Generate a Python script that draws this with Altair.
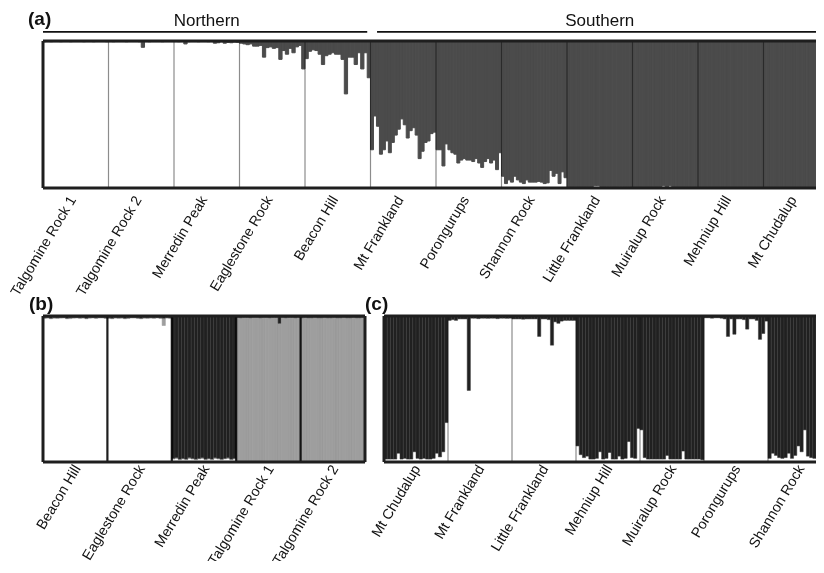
import altair as alt
import pandas as pd

FONT = "Liberation Sans"

# ---------------- panel (a): two clusters, value = share of the dark (Southern) cluster
A_POPS = ["Talgomine Rock 1", "Talgomine Rock 2", "Merredin Peak", "Eaglestone Rock",
          "Beacon Hill", "Mt Frankland", "Porongurups", "Shannon Rock",
          "Little Frankland", "Muiralup Rock", "Mehniup Hill", "Mt Chudalup"]
a_talg1 = [0.006, 0.005, 0.006, 0.005, 0.005, 0.006, 0.005, 0.005, 0.006, 0.005,
           0.005, 0.005, 0.006, 0.005, 0.005, 0.006, 0.005, 0.005, 0.005, 0.006]
a_talg2 = [0.005, 0.006, 0.005, 0.005, 0.005, 0.006, 0.005, 0.005, 0.005, 0.006,
           0.043, 0.005, 0.006, 0.005, 0.005, 0.005, 0.006, 0.005, 0.005, 0.005]
a_merredin = [0.005, 0.006, 0.005, 0.02, 0.006, 0.005, 0.005, 0.006, 0.005, 0.005,
              0.006, 0.005, 0.015, 0.012, 0.006, 0.015, 0.01, 0.012, 0.008, 0.01]
a_eagle = [0.015, 0.02, 0.025, 0.02, 0.035, 0.035, 0.03, 0.11, 0.045, 0.04,
           0.05, 0.045, 0.125, 0.065, 0.09, 0.05, 0.08, 0.04, 0.03, 0.19]
a_beacon = [0.12, 0.07, 0.06, 0.065, 0.09, 0.16, 0.10, 0.09, 0.08, 0.09,
            0.09, 0.125, 0.36, 0.11, 0.11, 0.16, 0.08, 0.19, 0.08, 0.25]
a_mtfrank = [0.74, 0.51, 0.58, 0.77, 0.74, 0.68, 0.76, 0.69, 0.64, 0.60, 0.53,
             0.57, 0.66, 0.61, 0.59, 0.64, 0.80, 0.75, 0.69, 0.68, 0.63, 0.62]
a_poron = [0.74, 0.74, 0.85, 0.70, 0.74, 0.76, 0.77, 0.83, 0.81, 0.80, 0.81,
           0.81, 0.82, 0.80, 0.83, 0.86, 0.82, 0.80, 0.83, 0.81, 0.875, 0.76]
a_shannon = [0.92, 0.97, 0.945, 0.96, 0.92, 0.945, 0.96, 0.97, 0.945, 0.96, 0.96,
             0.96, 0.955, 0.96, 0.97, 0.965, 0.88, 0.92, 0.90, 0.97, 0.89, 0.93]
a_littlefr = [0.995, 0.995, 0.99, 0.995, 0.995, 0.995, 0.99, 0.995, 0.985, 0.985,
              0.99, 0.99, 0.99, 0.99, 0.995, 0.99, 0.99, 0.99, 0.99, 0.995]
a_muiralup = [0.995, 0.995, 0.995, 0.99, 0.995, 0.995, 0.99, 0.995, 0.99, 0.985,
              0.995, 0.985, 0.995, 0.995, 0.995, 0.995, 0.995, 0.995, 0.995, 0.995]
a_mehniup = [0.998, 0.998, 0.998, 0.998, 0.998, 0.998, 0.998, 0.995, 0.998, 0.998,
             0.998, 0.998, 0.995, 0.998, 0.995, 0.998, 0.995, 0.998, 0.998, 0.998]
a_chudalup = [0.998, 0.998, 0.998, 0.998, 0.998, 0.998, 0.998, 0.998, 0.998, 0.998,
              0.998, 0.995, 0.995, 0.998, 0.995, 0.99, 0.995, 0.995, 0.998, 0.998]
A_VALUES = [a_talg1, a_talg2, a_merredin, a_eagle, a_beacon, a_mtfrank, a_poron,
            a_shannon, a_littlefr, a_muiralup, a_mehniup, a_chudalup]
A_GROUPS = ["Northern", "Southern"]
A_GROUP_SPAN = [(0.0, 4.95), (5.1, 12.0)]

# ---------------- panel (b): three clusters (white / grey / black)
B_POPS = ["Beacon Hill", "Eaglestone Rock", "Merredin Peak",
          "Talgomine Rock 1", "Talgomine Rock 2"]
b_beacon_dark = [0.012, 0.01, 0.015, 0.01, 0.012, 0.01, 0.01, 0.015, 0.012, 0.01,
                 0.01, 0.012, 0.01, 0.015, 0.01, 0.01, 0.012, 0.01, 0.01, 0.012]
b_beacon_grey = [0.004, 0.005, 0.004, 0.006, 0.004, 0.005, 0.004, 0.004, 0.006, 0.005,
                 0.004, 0.004, 0.005, 0.004, 0.006, 0.004, 0.005, 0.004, 0.004, 0.005]
b_eagle_dark = [0.012, 0.015, 0.01, 0.012, 0.01, 0.015, 0.012, 0.01, 0.01, 0.012,
                0.015, 0.01, 0.012, 0.01, 0.012, 0.01, 0.012, 0.015, 0.01, 0.012]
b_eagle_grey = [0.005, 0.004, 0.005, 0.004, 0.006, 0.004, 0.005, 0.004, 0.004, 0.005,
                0.004, 0.006, 0.004, 0.005, 0.004, 0.004, 0.005, 0.05, 0.005, 0.004]
b_merredin_dark = [0.975, 0.97, 0.98, 0.975, 0.98, 0.97, 0.975, 0.98, 0.975, 0.97,
                   0.98, 0.975, 0.98, 0.97, 0.975, 0.98, 0.975, 0.97, 0.98, 0.975]
b_merredin_grey = [0.005, 0.006, 0.005, 0.005, 0.004, 0.006, 0.005, 0.005, 0.004, 0.006,
                   0.005, 0.005, 0.004, 0.006, 0.005, 0.005, 0.004, 0.006, 0.005, 0.005]
b_talg1_dark = [0.01, 0.012, 0.01, 0.01, 0.012, 0.01, 0.01, 0.012, 0.01, 0.01,
                0.012, 0.01, 0.01, 0.05, 0.01, 0.012, 0.01, 0.01, 0.012, 0.01]
b_talg1_grey = [0.985, 0.983, 0.985, 0.985, 0.983, 0.985, 0.985, 0.983, 0.985, 0.985,
                0.983, 0.985, 0.985, 0.945, 0.985, 0.983, 0.985, 0.985, 0.983, 0.985]
b_talg2_dark = [0.012, 0.01, 0.012, 0.012, 0.01, 0.012, 0.012, 0.01, 0.012, 0.012,
                0.01, 0.012, 0.012, 0.01, 0.012, 0.012, 0.01, 0.012, 0.012, 0.01]
b_talg2_grey = [0.983, 0.985, 0.983, 0.983, 0.985, 0.983, 0.983, 0.985, 0.983, 0.983,
                0.985, 0.983, 0.983, 0.985, 0.983, 0.983, 0.985, 0.983, 0.983, 0.985]
B_DARK = [b_beacon_dark, b_eagle_dark, b_merredin_dark, b_talg1_dark, b_talg2_dark]
B_GREY = [b_beacon_grey, b_eagle_grey, b_merredin_grey, b_talg1_grey, b_talg2_grey]

# ---------------- panel (c): two clusters, value = share of the black cluster
C_POPS = ["Mt Chudalup", "Mt Frankland", "Little Frankland", "Mehniup Hill",
          "Muiralup Rock", "Porongurups", "Shannon Rock"]
c_chudalup = [0.98, 0.98, 0.98, 0.98, 0.94, 0.98, 0.975, 0.98, 0.98, 0.93,
              0.975, 0.98, 0.975, 0.98, 0.98, 0.975, 0.94, 0.965, 0.93, 0.73]
c_mtfrank = [0.03, 0.025, 0.03, 0.02, 0.02, 0.02, 0.51, 0.015, 0.015, 0.018,
             0.015, 0.015, 0.016, 0.015, 0.015, 0.018, 0.015, 0.015, 0.016, 0.015]
c_littlefr = [0.02, 0.02, 0.02, 0.022, 0.02, 0.02, 0.02, 0.02, 0.14, 0.02,
              0.02, 0.025, 0.20, 0.04, 0.05, 0.035, 0.03, 0.03, 0.03, 0.03]
c_mehniup = [0.89, 0.95, 0.97, 0.96, 0.98, 0.98, 0.975, 0.93, 0.98, 0.975,
             0.935, 0.98, 0.98, 0.96, 0.98, 0.975, 0.86, 0.97, 0.975, 0.77]
c_muiralup = [0.78, 0.97, 0.98, 0.98, 0.98, 0.98, 0.98, 0.98, 0.955, 0.98,
              0.98, 0.98, 0.98, 0.925, 0.98, 0.98, 0.98, 0.98, 0.98, 0.985]
c_poron = [0.012, 0.012, 0.015, 0.012, 0.012, 0.015, 0.02, 0.14, 0.02, 0.125,
           0.02, 0.02, 0.025, 0.09, 0.02, 0.02, 0.03, 0.16, 0.12, 0.035]
c_shannon = [0.975, 0.94, 0.955, 0.97, 0.975, 0.97, 0.94, 0.975, 0.955, 0.89,
             0.93, 0.78, 0.96, 0.97, 0.975, 0.955, 0.94, 0.975, 0.97, 0.97]
C_VALUES = [c_chudalup, c_mtfrank, c_littlefr, c_mehniup, c_muiralup, c_poron, c_shannon]

CLUSTERS = ["dark", "grey", "black"]
FILLS = ["#4b4b4b", "#9e9e9e", "#202020"]
STROKES = ["#4b4b4b", "#949494", "#383838"]

# ---------------- layout (pixel sizes of the plot areas); the figure is cropped
# on the right by the fixed-size canvas, as in the original
A_POPW, B_POPW, C_POPW = 65.5, 64.4, 64.0
A_W, A_H = round(A_POPW * len(A_POPS)), 147
B_W, B_H = round(B_POPW * len(B_POPS)), 146
C_W, C_H = round(C_POPW * len(C_POPS)), 146
A_MAX, B_MAX, C_MAX = float(len(A_POPS)), float(len(B_POPS)), float(len(C_POPS))


def two_cluster_df(values, dark_name):
    rows = []
    for p, vals in enumerate(values):
        n = len(vals)
        for i, q in enumerate(vals):
            rows.append({"x": p + i / n, "x2": p + (i + 1) / n,
                         "y": 1 - q, "y2": 1.0, "cluster": dark_name})
    return pd.DataFrame(rows)


def three_cluster_df(dark, grey):
    rows = []
    for p, (dv, gv) in enumerate(zip(dark, grey)):
        n = len(dv)
        for i, (d, g) in enumerate(zip(dv, gv)):
            w = max(0.0, 1 - d - g)
            rows.append({"x": p + i / n, "x2": p + (i + 1) / n, "y": w, "y2": w + g, "cluster": "grey"})
            rows.append({"x": p + i / n, "x2": p + (i + 1) / n, "y": w + g, "y2": 1.0, "cluster": "black"})
    return pd.DataFrame(rows)


def xenc(dmax, names, offset, padding):
    label_list = "[" + ",".join("'" + n + "'" for n in names) + "]"
    return alt.X(
        "x:Q",
        scale=alt.Scale(domain=[0, dmax], nice=False, zero=False),
        axis=alt.Axis(values=[i + 0.5 for i in range(len(names))],
                      labelExpr=label_list + "[floor(datum.value)]",
                      labelAngle=-59, labelAlign="right", labelBaseline="middle",
                      labelFontSize=14.3, labelFont=FONT, labelColor="#111111",
                      labelPadding=padding, labelOffset=offset, labelOverlap=False,
                      labelBound=False, labelFlush=False, ticks=False, domain=False,
                      grid=False, title=None),
    )


YENC = alt.Y("y:Q", scale=alt.Scale(domain=[0, 1], nice=False, zero=False), axis=None)


def panel(bars, stroke_w, npops, dmax, names, sep_color, sep_width,
          letter, letter_x, letter_y, offset, padding):
    X = xenc(dmax, names, offset, padding)
    bar = alt.Chart(bars).mark_rect(strokeWidth=stroke_w).encode(
        x=X, x2="x2:Q", y=YENC, y2="y2:Q",
        color=alt.Color("cluster:N", scale=alt.Scale(domain=CLUSTERS, range=FILLS), legend=None),
        stroke=alt.Stroke("cluster:N", scale=alt.Scale(domain=CLUSTERS, range=STROKES), legend=None),
    )
    seps = pd.DataFrame({"x": [float(k) for k in range(1, npops)], "y": 0.0, "y2": 1.0})
    sep = alt.Chart(seps).mark_rule(color=sep_color, strokeWidth=sep_width, blend="multiply").encode(
        x=X, y=YENC, y2="y2:Q")
    brd = pd.DataFrame({"x": [0.0, 0.0, 0.0, dmax], "x2": [dmax, dmax, 0.0, dmax],
                        "y": [1.0, 0.0, 0.0, 0.0], "y2": [1.0, 0.0, 1.0, 1.0]})
    border = alt.Chart(brd).mark_rule(color="#1e1e1e", strokeWidth=3).encode(
        x=X, x2="x2:Q", y=YENC, y2="y2:Q")
    lab = alt.Chart(pd.DataFrame({"x": [letter_x], "y": [letter_y], "t": [letter]})).mark_text(
        font=FONT, fontSize=19, fontWeight="bold", align="left", baseline="alphabetic", color="#111111"
    ).encode(x=X, y=YENC, text="t:N")
    return X, [bar, sep, border, lab]


# panel (a)
Xa, a_layers = panel(two_cluster_df(A_VALUES, "dark"), 1.0, len(A_POPS), A_MAX, A_POPS,
                     "#8c8c8c", 1.2, "(a)", -0.229, 1.109, -3, 9)
grp = pd.DataFrame({"x": [s[0] for s in A_GROUP_SPAN], "x2": [s[1] for s in A_GROUP_SPAN],
                    "y": 1.062, "y2": 1.062})
grp_lines = alt.Chart(grp).mark_rule(color="#111111", strokeWidth=1.8).encode(
    x=Xa, x2="x2:Q", y=YENC, y2="y2:Q")
grp_txt = alt.Chart(pd.DataFrame({"x": [2.5, 8.5], "y": 1.1, "t": A_GROUPS})).mark_text(
    font=FONT, fontSize=17, align="center", baseline="alphabetic", color="#111111"
).encode(x=Xa, y=YENC, text="t:N")
chart_a = alt.layer(*a_layers, grp_lines, grp_txt).properties(width=A_W, height=A_H)

# panel (b)
_, b_layers = panel(three_cluster_df(B_DARK, B_GREY), 0.5, len(B_POPS), B_MAX, B_POPS,
                    "#1e1e1e", 2.2, "(b)", -0.217, 1.041, 2, 4)
chart_b = alt.layer(*b_layers).properties(width=B_W, height=B_H)

# panel (c)
_, c_layers = panel(two_cluster_df(C_VALUES, "black"), 0.5, len(C_POPS), C_MAX, C_POPS,
                    "#8c8c8c", 1.2, "(c)", -0.297, 1.041, 1, 4)
chart_c = alt.layer(*c_layers).properties(width=C_W, height=C_H)

PAD_LEFT, PAD_TOP = 35, 33
CANVAS_W, CANVAS_H = 808, 553

bottom = alt.hconcat(chart_b, chart_c, spacing=19, bounds="flush")
chart = alt.vconcat(chart_a, bottom, spacing=128, bounds="flush").properties(
    autosize=alt.AutoSizeParams(type="none"),
    padding={"left": PAD_LEFT, "top": PAD_TOP,
             "right": CANVAS_W - PAD_LEFT, "bottom": CANVAS_H - PAD_TOP},
).configure_view(stroke=None).configure(background="white")

chart.save("out.html", embed_options={"renderer": "svg", "actions": False})
